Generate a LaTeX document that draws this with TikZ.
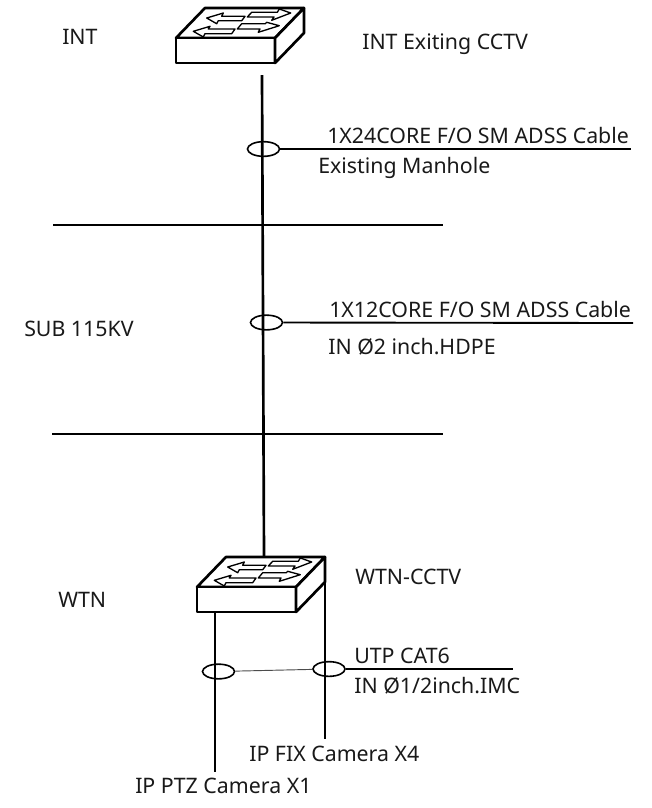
\documentclass[tikz,border=0pt]{standalone}
\usepackage{fontspec}
\setmainfont{Noto Sans}
\usetikzlibrary{shapes.geometric,positioning}
\tikzset{
    cable/.style={line width=2pt},
    feeder/.style={line width=1.4pt},
    conduit/.style={draw, ellipse, line width=1.2pt, minimum width=24pt, minimum height=11pt, inner sep=0pt},
    lbl/.style={font=\fontsize{16}{18}\selectfont, anchor=base west, inner sep=0pt, text=black!90},
    switchicon/.pic={
        % Box outline, origin at the front top left corner
        \draw[line width=2pt, line join=round, fill=white] (0,0) -- (29,-30) -- (128,-30) -- (99,0) -- cycle;
        \draw[line width=2pt, line join=round, fill=white] (0,0) rectangle (99,25);
        \draw[line width=2pt, line join=round, fill=white] (99,0) -- (128,-30) -- (128,-5) -- (99,25) -- cycle;
        % Arrows on the top face
        \foreach \arw in {
            {(30.7,-20) -- (47.3,-25) -- (45.7,-21.7) -- (69,-21.7) -- (65.7,-17.3) -- (42.3,-17.3) -- (40.7,-14.3)},
            {(114.7,-25) -- (103.3,-29) -- (101.3,-25.7) -- (75.7,-25.7) -- (71.3,-21) -- (98,-21) -- (95.7,-17.7)},
            {(17.3,-6.7) -- (34,-11.7) -- (32.3,-9) -- (59,-9) -- (55.7,-4.3) -- (29,-4.3) -- (27.3,-1)},
            {(103.3,-12.3) -- (90.7,-15.7) -- (89.3,-14.3) -- (65.7,-14.3) -- (61.3,-9) -- (84,-9) -- (82.3,-5.7)}}{
            \draw[line width=1pt, line join=round] \arw -- cycle;
        }
    }
}

\begin{document}
\begin{tikzpicture}[x=0.75pt, y=-0.75pt]
    \useasboundingbox (0,0) rectangle (651,808);

    % --- Switches ---
    \pic at (176,38) {switchicon};
    \pic at (197,587) {switchicon};
    \coordinate (intsw) at (262,75);
    \coordinate (wtnsw) at (264,556);
    \coordinate (ptzsw) at (215,612);
    \coordinate (fixsw) at (325,582);

    % --- Conduit rings ---
    \node[conduit] (ringa) at (263.5,149) {};
    \node[conduit] (ringb) at (266.5,322.5) {};
    \node[conduit] (ringc) at (218.5,671.5) {};
    \node[conduit] (ringd) at (329,669) {};

    % Vertical runs
    \draw[cable] (intsw) -- (wtnsw);
    \coordinate (ptzend) at (215,772);
    \coordinate (fixend) at (325,739);
    \draw[cable] (ptzsw) -- (ptzend);
    \draw[cable] (fixsw) -- (fixend);

    % Cable leaders
    \coordinate (leada) at (631,149);
    \coordinate (leadb) at (633,323);
    \coordinate (leadd) at (513,669);
    \draw[feeder] (ringa) -- (leada);
    \draw[feeder] (ringb) -- (leadb);
    \draw[feeder] (ringd) -- (leadd);
    \draw[line width=0.7pt, black!70] (ringc) -- (ringd);

    % Area boundaries
    \coordinate (bounda) at (53,225);
    \coordinate (boundb) at (443,225);
    \coordinate (boundc) at (52,434);
    \coordinate (boundd) at (443,434);
    \draw[cable] (bounda) -- (boundb);
    \draw[cable] (boundc) -- (boundd);

    % --- Labels ---
    \node[lbl] (intname) at (62,44) {INT};
    \node[lbl] (intcctv) at (362,49) {INT Exiting CCTV};
    \node[lbl] (cablea) at (327,143) {1X24CORE F/O SM ADSS Cable};
    \node[lbl] (mhole) at (318,173) {Existing Manhole};
    \node[lbl] (subname) at (24,336) {SUB 115KV};
    \node[lbl] (cableb) at (329,317) {1X12CORE F/O SM ADSS Cable};
    \node[lbl] (hdpe) at (328,354) {IN Ø2 inch.HDPE};
    \node[lbl] (wtnname) at (58,607) {WTN};
    \node[lbl] (wtncctv) at (355,584) {WTN-CCTV};
    \node[lbl] (utp) at (354,663) {UTP CAT6};
    \node[lbl] (imc) at (354,693) {IN Ø1/2inch.IMC};
    \node[lbl] (fixcam) at (249,761) {IP FIX Camera X4};
    \node[lbl] (ptzcam) at (135,793) {IP PTZ Camera X1};
\end{tikzpicture}
\end{document}
